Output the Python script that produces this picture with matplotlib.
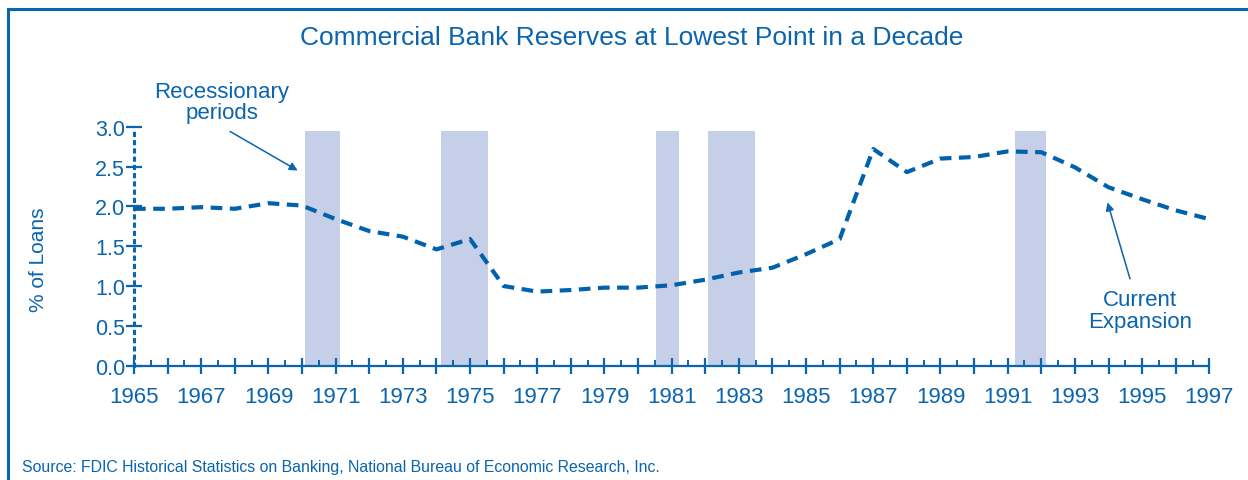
import numpy as np
import matplotlib
matplotlib.use("Agg")
import matplotlib.pyplot as plt
from matplotlib.ticker import FixedLocator
from matplotlib.lines import Line2D

plt.rcParams["font.family"] = ["Liberation Sans", "DejaVu Sans"]

BLUE = "#0a64ae"
LINE = "#0061ad"
BAND = "#c5cfe7"

# reserves, % of loans
years = [1965, 1966, 1967, 1968, 1969, 1970, 1971, 1972, 1973, 1974, 1975,
         1976, 1977, 1978, 1979, 1980, 1981, 1982, 1983, 1984, 1985, 1986,
         1987, 1988, 1989, 1990, 1991, 1992, 1993, 1994, 1995, 1996, 1997]
reserves = [1.97, 1.97, 1.99, 1.97, 2.04, 2.01, 1.84, 1.69, 1.62, 1.46, 1.59,
            1.00, 0.93, 0.95, 0.98, 0.98, 1.01, 1.08, 1.17, 1.23, 1.40, 1.59,
            2.72, 2.43, 2.60, 2.62, 2.69, 2.68, 2.49, 2.24, 2.09, 1.95, 1.84]

# recession bands (start, end) in axis years
rec_start = [1970.09, 1974.14, 1980.54, 1982.08, 1991.22]
rec_end = [1971.12, 1975.53, 1981.21, 1983.47, 1992.14]
band_top = 2.95

tick_years = list(range(1965, 1998))
label_years = tick_years[::2]

fig = plt.figure(figsize=(12.48, 4.81), dpi=100)
ax = fig.add_axes([0.1074, 0.2376, 0.8616, 0.4969])

for s, e in zip(rec_start, rec_end):
    ax.fill_between([s, e], 0, band_top, color=BAND, lw=0, zorder=1)

ax.plot(years, reserves, color=LINE, lw=3.0, dashes=(2.8, 1.8), zorder=3)

ax.set_xlim(1965, 1997)
ax.set_ylim(0, 3.0)

ax.spines["top"].set_visible(False)
ax.spines["right"].set_visible(False)
ax.spines["bottom"].set_color(BLUE)
ax.spines["bottom"].set_linewidth(1.6)
ax.spines["left"].set_color(BLUE)
ax.spines["left"].set_linewidth(2.2)
ax.spines["left"].set_linestyle((0, (0.7, 2.0)))

ax.xaxis.set_major_locator(FixedLocator(tick_years))
ax.xaxis.set_minor_locator(FixedLocator([y + 0.5 for y in tick_years[:-1]]))
ax.set_xticklabels([str(y) if y in label_years else "" for y in tick_years])
ax.tick_params(axis="x", which="major", direction="inout", length=11, width=1.6,
               color=BLUE, labelcolor=BLUE, labelsize=16, pad=9)
ax.tick_params(axis="x", which="minor", direction="in", length=4, width=1.4, color=BLUE)

yticks = [0.0, 0.5, 1.0, 1.5, 2.0, 2.5, 3.0]
ax.set_yticks(yticks)
ax.set_yticklabels([f"{v:.1f}" for v in yticks])
ax.tick_params(axis="y", which="major", direction="inout", length=11, width=1.6,
               color=BLUE, labelcolor=BLUE, labelsize=15.5, pad=1)
ax.set_ylabel("% of Loans", color=BLUE, fontsize=15)
ax.yaxis.set_label_coords(-0.080, 0.446)

ax.text(1967.62, 3.31, "Recessionary\nperiods", color=BLUE, fontsize=16,
        ha="center", va="center", linespacing=1.05)
ax.annotate("", xy=(1969.87, 2.45), xytext=(1967.86, 2.94),
            annotation_clip=False,
            arrowprops=dict(arrowstyle="-|>", color=BLUE, lw=1.1,
                            shrinkA=0, shrinkB=0, mutation_scale=12))
ax.text(1994.94, 0.69, "Current\nExpansion", color=BLUE, fontsize=16,
        ha="center", va="center", linespacing=1.05)
ax.annotate("", xy=(1993.97, 2.05), xytext=(1994.64, 1.09),
            arrowprops=dict(arrowstyle="-|>", color=BLUE, lw=1.1,
                            shrinkA=0, shrinkB=0, mutation_scale=12))

fig.text(0.506, 0.921, "Commercial Bank Reserves at Lowest Point in a Decade",
         color=BLUE, fontsize=19, ha="center", va="center")
fig.text(0.018, 0.028, "Source: FDIC Historical Statistics on Banking, National Bureau of Economic Research, Inc.",
         color=BLUE, fontsize=11.4, ha="left", va="center")

# frame lines at top and left of the figure
fig.add_artist(Line2D([0.0064, 1.0], [0.979, 0.979], transform=fig.transFigure,
                      color=BLUE, lw=2.2))
fig.add_artist(Line2D([0.0064, 0.0064], [0.0, 0.979], transform=fig.transFigure,
                      color=BLUE, lw=2.2))

fig.savefig("out.png", dpi=100)
